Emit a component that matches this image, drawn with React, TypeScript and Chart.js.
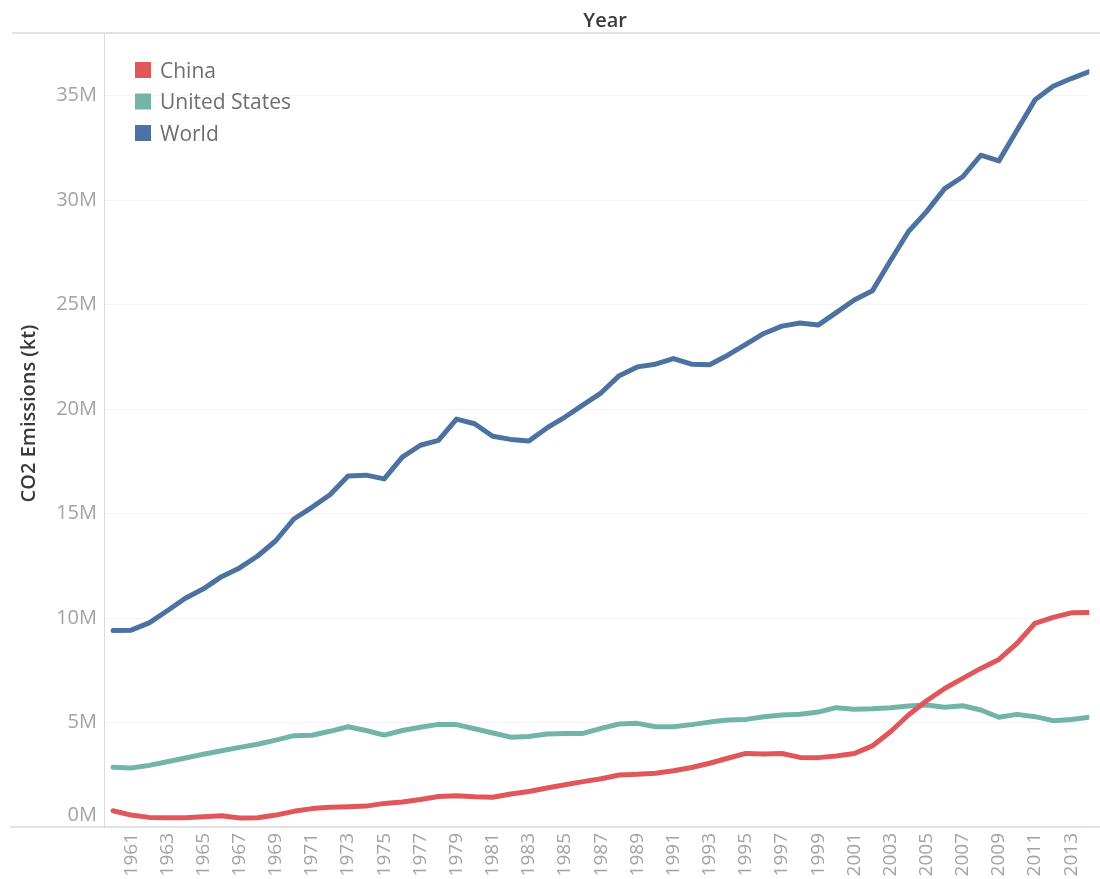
import { useEffect, useRef } from 'react';
import { Chart, registerables } from 'chart.js';

Chart.register(...registerables);

// Year axis (categories)
const years = [
  1960, 1961, 1962, 1963, 1964, 1965, 1966, 1967, 1968, 1969,
  1970, 1971, 1972, 1973, 1974, 1975, 1976, 1977, 1978, 1979,
  1980, 1981, 1982, 1983, 1984, 1985, 1986, 1987, 1988, 1989,
  1990, 1991, 1992, 1993, 1994, 1995, 1996, 1997, 1998, 1999,
  2000, 2001, 2002, 2003, 2004, 2005, 2006, 2007, 2008, 2009,
  2010, 2011, 2012, 2013, 2014,
];

// CO2 emissions, million kt
const china = [
  0.78, 0.57, 0.46, 0.44, 0.44, 0.49, 0.54, 0.43, 0.44, 0.57,
  0.75, 0.88, 0.94, 0.97, 1.0, 1.13, 1.2, 1.32, 1.46, 1.5,
  1.45, 1.42, 1.58, 1.7, 1.87, 2.02, 2.17, 2.31, 2.49, 2.52,
  2.57, 2.69, 2.85, 3.05, 3.29, 3.52, 3.49, 3.52, 3.33, 3.32,
  3.4, 3.52, 3.88, 4.56, 5.36, 6.04, 6.63, 7.11, 7.59, 8.02,
  8.79, 9.75, 10.03, 10.25, 10.27,
];

const unitedStates = [
  2.86, 2.82, 2.95, 3.12, 3.3, 3.48, 3.65, 3.81, 3.96, 4.16,
  4.37, 4.39, 4.58, 4.8, 4.62, 4.4, 4.62, 4.77, 4.91, 4.9,
  4.7, 4.5, 4.3, 4.33, 4.45, 4.48, 4.48, 4.72, 4.93, 4.96,
  4.8, 4.8, 4.9, 5.02, 5.12, 5.15, 5.28, 5.36, 5.4, 5.5,
  5.71, 5.63, 5.66, 5.71, 5.79, 5.84, 5.73, 5.8, 5.6, 5.25,
  5.39, 5.28, 5.09, 5.15, 5.25,
];

const world = [
  9.4, 9.42, 9.77, 10.35, 10.95, 11.4, 11.98, 12.4, 12.97, 13.7,
  14.74, 15.3, 15.9, 16.8, 16.84, 16.66, 17.7, 18.27, 18.5, 19.52,
  19.3, 18.7, 18.55, 18.47, 19.1, 19.62, 20.2, 20.78, 21.6, 22.02,
  22.15, 22.42, 22.15, 22.12, 22.58, 23.1, 23.62, 23.97, 24.12, 24.02,
  24.62, 25.22, 25.66, 27.1, 28.5, 29.45, 30.55, 31.12, 32.15, 31.88,
  33.35, 34.8, 35.45, 35.82, 36.15,
];

const xTickYears = [
  1961, 1963, 1965, 1967, 1969, 1971, 1973, 1975, 1977, 1979,
  1981, 1983, 1985, 1987, 1989, 1991, 1993, 1995, 1997, 1999,
  2001, 2003, 2005, 2007, 2009, 2011, 2013,
];

const seriesNames = ['China', 'United States', 'World'];
const seriesColors = ['#e15759', '#72b5a8', '#4b72a1'];

const FONT = "'Open Sans', 'Noto Sans', sans-serif";
const TICK_COLOR = '#a3a3a3';

const toPoints = (vals: number[]) => vals.map((v, i) => ({ x: years[i], y: v }));

const decorPlugin = {
  id: 'decor',
  beforeDraw(chart: any) {
    const { ctx, width, height } = chart;
    ctx.save();
    ctx.fillStyle = '#ffffff';
    ctx.fillRect(0, 0, width, height);
    ctx.restore();
  },
  beforeDatasetsDraw(chart: any) {
    const { ctx, chartArea } = chart;
    ctx.save();
    ctx.strokeStyle = '#e2e2e2';
    ctx.lineWidth = 2;
    ctx.beginPath();
    ctx.moveTo(12, chartArea.top);
    ctx.lineTo(chart.width, chartArea.top);
    ctx.stroke();
    ctx.strokeStyle = '#dadada';
    ctx.lineWidth = 1.5;
    ctx.beginPath();
    ctx.moveTo(10, chartArea.bottom);
    ctx.lineTo(chart.width, chartArea.bottom);
    ctx.stroke();
    ctx.restore();
  },
  afterDraw(chart: any) {
    const { ctx, chartArea, scales } = chart;
    const xs = scales.x;
    const ys = scales.y;
    ctx.save();
    // Header "Year"
    const cx = (xs.getPixelForValue(1959.5) + xs.getPixelForValue(2014.5)) / 2;
    ctx.fillStyle = '#3a3a3a';
    ctx.font = `600 20px ${FONT}`;
    ctx.textAlign = 'center';
    ctx.textBaseline = 'alphabetic';
    ctx.fillText('Year', cx + 4, 27);

    // Y axis title
    ctx.save();
    ctx.translate(35, chartArea.bottom / 2);
    ctx.rotate(-Math.PI / 2);
    ctx.font = `600 20px ${FONT}`;
    ctx.fillStyle = '#3a3a3a';
    ctx.textAlign = 'center';
    ctx.fillText('CO2 Emissions (kt)', 0, 0);
    ctx.restore();

    // 0M label, lifted above the axis line as in the reference
    ctx.font = `20px ${FONT}`;
    ctx.fillStyle = TICK_COLOR;
    ctx.textAlign = 'right';
    ctx.fillText('0M', chartArea.left - 7, ys.getPixelForValue(0) - 6);

    // Legend
    ctx.textAlign = 'left';
    ctx.font = `21px ${FONT}`;
    chart.data.datasets.forEach((ds: any, i: number) => {
      const cy = chartArea.top + 37 + i * 31.5;
      ctx.fillStyle = ds.borderColor;
      ctx.fillRect(chartArea.left + 31, cy - 8, 16, 16);
      ctx.fillStyle = '#6e6e6e';
      ctx.fillText(ds.label, chartArea.left + 56, cy + 7.5);
    });
    ctx.restore();
  },
};

export default function App() {
  const canvasRef = useRef<HTMLCanvasElement | null>(null);

  useEffect(() => {
    if (!canvasRef.current) return;
    const series = [china, unitedStates, world];
    const chart = new Chart(canvasRef.current, {
      type: 'line',
      data: {
        datasets: series.map((vals, i) => ({
          label: seriesNames[i],
          data: toPoints(vals),
          borderColor: seriesColors[i],
          backgroundColor: seriesColors[i],
          borderWidth: 5,
          pointRadius: 0,
          tension: 0,
          borderJoinStyle: 'round' as const,
          borderCapStyle: 'round' as const,
        })),
      },
      options: {
        animation: false,
        responsive: true,
        maintainAspectRatio: false,
        layout: { padding: { top: 33, left: 0, right: 0, bottom: 0 } },
        plugins: {
          legend: { display: false },
          tooltip: { enabled: false },
          title: { display: false },
        },
        scales: {
          x: {
            type: 'linear',
            min: 1959.5,
            max: 2014,
            afterBuildTicks: (scale: any) => {
              scale.ticks = xTickYears.map((v) => ({ value: v }));
            },
            afterFit: (scale: any) => {
              scale.height = 52;
            },
            grid: { display: false, drawTicks: false },
            border: { display: false },
            ticks: {
              autoSkip: false,
              minRotation: 90,
              maxRotation: 90,
              padding: 6,
              color: TICK_COLOR,
              font: { family: FONT, size: 19 },
              callback: (v: any) => String(v),
            },
          },
          y: {
            type: 'linear',
            min: 0,
            max: 38,
            afterFit: (scale: any) => {
              scale.width = 104;
            },
            grid: { color: '#f3f3f3', drawTicks: false },
            border: { display: true, color: '#dcdcdc', width: 1 },
            ticks: {
              stepSize: 5,
              includeBounds: false,
              padding: 7,
              color: TICK_COLOR,
              font: { family: FONT, size: 20 },
              callback: (v: any) => (Number(v) === 0 ? '' : `${v}M`),
            },
          },
        },
      },
      plugins: [decorPlugin],
    });
    return () => chart.destroy();
  }, []);

  return (
    <div
      style={{
        position: 'fixed',
        left: 0,
        top: 0,
        width: 1100,
        height: 879,
        overflow: 'hidden',
        background: '#fff',
      }}
    >
      <div style={{ position: 'relative', width: 1100, height: 879 }}>
        <canvas ref={canvasRef} />
      </div>
    </div>
  );
}
